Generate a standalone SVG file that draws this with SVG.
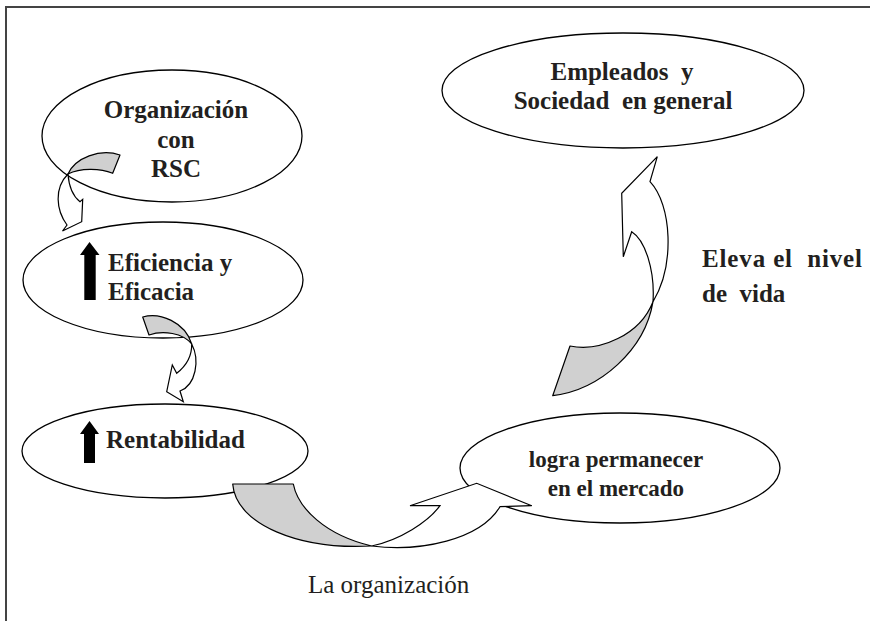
<svg xmlns="http://www.w3.org/2000/svg" width="870" height="621" viewBox="0 0 870 621">
<style>
.frame{fill:none;stroke:#444;stroke-width:2}
.node{fill:#fff;stroke:#000;stroke-width:1.3}
.t{font-family:"Liberation Serif","Times New Roman",serif;font-size:25px;font-weight:bold;fill:#231f20;white-space:pre}
.s{font-size:23px}
.c{text-anchor:middle}
.r{font-family:"Liberation Serif","Times New Roman",serif;font-size:25px;fill:#231f20;white-space:pre}
.tail{fill:#d0d0d0;stroke:#000;stroke-width:1.2;stroke-linejoin:round}
.head{fill:#fff;stroke:#000;stroke-width:1.2;stroke-linejoin:miter}
.up{fill:#000}
</style>
<rect width="870" height="621" fill="#fff"/>
<path class="frame" d="M6,621 V7 H870"/>

<g id="n-org">
<ellipse class="node" cx="172" cy="136" rx="130" ry="66"/>
<text class="t c" x="176" y="118">Organización</text>
<text class="t c" x="176" y="148">con</text>
<text class="t c" x="176" y="177">RSC</text>
</g>
<g id="n-efi">
<ellipse class="node" cx="163" cy="280" rx="140" ry="58"/>
<path class="up" d="M89.5,242 L99.5,255 H95.7 V300 H84.3 V255 H80 Z"/>
<text class="t" x="108" y="271">Eficiencia y</text>
<text class="t" x="108" y="300">Eficacia</text>
</g>
<g id="n-rent">
<ellipse class="node" cx="165" cy="451" rx="143" ry="47"/>
<path class="up" d="M89.5,421 L99,434 H95 V463 H84 V434 H80 Z"/>
<text class="t" x="106" y="448">Rentabilidad</text>
</g>
<g id="n-logra">
<ellipse class="node" cx="620" cy="468" rx="160" ry="55"/>
<text class="t s c" x="616" y="467">logra permanecer</text>
<text class="t s c" x="616" y="496">en el mercado</text>
</g>
<g id="n-emp">
<ellipse class="node" cx="623" cy="90.5" rx="181" ry="57.5"/>
<text class="t c" x="622" y="80">Empleados  y</text>
<text class="t c" x="623" y="109">Sociedad  en general</text>
</g>

<g id="connectors">
<g id="a1">
<path class="tail" d="M120,155 L112.7,173.3 C100,168 80,168 68,174 C75,158 100,148 120,155 Z"/>
<path class="head" d="M68,174 C69,188 74,197 80,201.7 L82.7,199.3 L81.7,221.7 L62.5,231 L67,225 C56,210 54,188 68,174 Z"/>
</g>
<g id="a2">
<path class="tail" d="M142.7,317 C160,312 185,322 191.7,344 C183,333 163,330 149,335 Z"/>
<path class="head" d="M191.7,344 C200,360 196,385 180,391 L183.3,401.7 L166.7,391.7 L172.3,365 L176.7,373.3 C186,366 192,356 191.7,344 Z"/>
</g>
<g id="a3">
<path class="tail" d="M232.7,484 L293.3,484 C298,508 325,535 371.7,546 C300,550 236,525 232.7,484 Z"/>
<path class="head" d="M371.7,546 C400,540 428,522 440,505.7 L410,505.7 L476.7,483.3 L531.7,505.7 L500,506.7 C480,540 420,552 371.7,546 Z"/>
</g>
<g id="a4">
<path class="tail" d="M552.7,395.7 L570,346 C600,352 640,335 653,301.7 C645,350 600,390 552.7,395.7 Z"/>
<path class="head" d="M653,301.7 C655,270 645,240 631.7,231.7 L623.3,256.7 L621.7,193.3 L657.3,156.7 L650,181.7 C672,205 675,265 653,301.7 Z"/>
</g>
</g>

<text class="t" x="702" y="267" textLength="160" lengthAdjust="spacing">Eleva el  nivel</text>
<text class="t" x="702" y="302">de  vida</text>
<text class="r" x="308" y="593">La organización</text>
</svg>
